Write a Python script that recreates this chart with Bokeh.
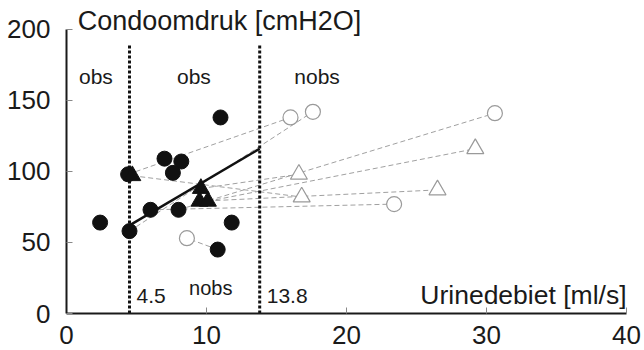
from bokeh.plotting import figure
from bokeh.models import Label, Range1d, FixedTicker
from bokeh.embed import file_html
from bokeh.resources import INLINE

# Data
obs_circle_x = [2.4, 4.5, 6.0, 8.0, 7.0, 8.2, 7.6, 11.0, 11.8, 10.8, 4.4]
obs_circle_y = [64, 58, 73, 73, 109, 107, 99, 138, 64, 45, 98]
obs_tri_x = [4.7, 9.6, 9.5, 10.1]
obs_tri_y = [97, 88, 79, 79]
nobs_circle_x = [8.6, 16.0, 17.6, 30.6, 23.4]
nobs_circle_y = [53, 138, 142, 141, 77]
nobs_tri_x = [16.6, 16.8, 29.2, 26.5]
nobs_tri_y = [98, 82, 116, 87]
pair_x0 = [10.8, 4.4, 4.5, 8.0, 6.0, 4.7, 9.6, 9.5, 10.1]
pair_y0 = [45, 98, 58, 73, 73, 97, 88, 79, 79]
pair_x1 = [8.6, 16.0, 17.6, 30.6, 23.4, 16.8, 16.6, 26.5, 29.2]
pair_y1 = [53, 138, 142, 141, 77, 82, 98, 87, 116]
reg_x = [4.5, 13.8]
reg_y = [62, 116]
cutoffs = [4.5, 13.8]
cutoff_top = 189
x_ticks = [0, 10, 20, 30, 40]
y_ticks = [0, 50, 100, 150, 200]

FONT = "Liberation Sans"

p = figure(width=644, height=356, output_backend="svg",
           toolbar_location=None, x_range=Range1d(0, 40), y_range=Range1d(0, 214),
           min_border_left=66, min_border_right=18, min_border_top=9,
           min_border_bottom=43)
p.outline_line_color = None
p.xgrid.visible = False
p.ygrid.visible = False
p.background_fill_color = "white"

for ax in (p.xaxis[0], p.yaxis[0]):
    ax.axis_line_width = 2
    ax.axis_line_color = "#1a1a1a"
    ax.major_tick_in = 6
    ax.major_tick_out = 0
    ax.minor_tick_in = 0
    ax.minor_tick_out = 0
    ax.major_tick_line_color = "#888888"
    ax.major_label_text_font = FONT
    ax.major_label_text_font_size = "26px"
    ax.major_label_text_color = "#1a1a1a"
p.xaxis.ticker = FixedTicker(ticks=x_ticks)
p.yaxis.ticker = FixedTicker(ticks=y_ticks)
p.yaxis.bounds = (0, 200)
p.xaxis.major_label_standoff = 12
p.yaxis.major_label_standoff = 16

# dashed pair lines
p.segment(x0=pair_x0, y0=pair_y0, x1=pair_x1, y1=pair_y1,
          line_color="#a0a0a0", line_width=1, line_dash="5 3")

# cutoffs
for c in cutoffs:
    p.line(x=[c, c], y=[0, cutoff_top], line_color="#111111", line_width=3,
           line_dash="3 2")

# regression line
p.line(x=reg_x, y=reg_y, line_color="#111111", line_width=2.5)

# open markers
p.scatter(nobs_circle_x, nobs_circle_y, marker="circle", size=15,
          fill_color="white", line_color="#9a9a9a", line_width=1.2)
p.scatter(nobs_tri_x, nobs_tri_y, marker="triangle", size=17,
          fill_color="white", line_color="#9a9a9a", line_width=1.2)

# filled markers
p.scatter(obs_circle_x, obs_circle_y, marker="circle", size=15,
          fill_color="#111111", line_color="#111111")
p.scatter(obs_tri_x, obs_tri_y, marker="triangle", size=17,
          fill_color="#111111", line_color="#111111")

def lab(x, y, t, size, align="left", baseline="middle"):
    p.add_layout(Label(x=x, y=y, text=t, text_font=FONT, text_font_size=size,
                       text_color="#1a1a1a", text_align=align,
                       text_baseline=baseline))

lab(0.8, 205.6, "Condoomdruk [cmH2O]", "27px")
lab(2.1, 167, "obs", "21px", "center")
lab(9.1, 167, "obs", "21px", "center")
lab(17.9, 167, "nobs", "21px", "center")
lab(10.3, 18, "nobs", "20px", "center")
lab(5.0, 12, "4.5", "21px")
lab(14.3, 12, "13.8", "21px")
lab(40, 13, "Urinedebiet [ml/s]", "26.5px", "right")

open("out.html", "w").write(file_html(p, INLINE))
